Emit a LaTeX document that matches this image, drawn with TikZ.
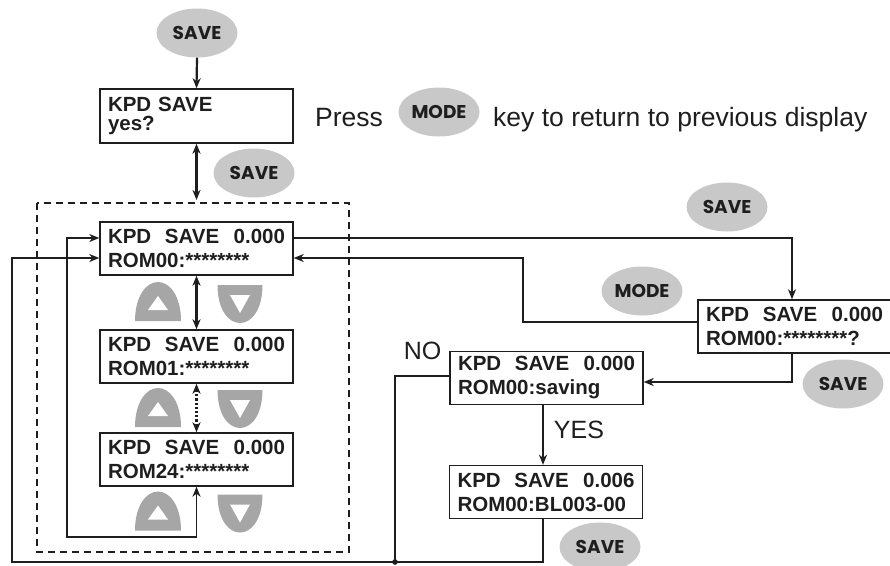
\documentclass[tikz,border=0pt]{standalone}
\usepackage{fontspec}
\setmainfont{Liberation Sans}
\newfontfamily\keyfont{Poppins}
\usetikzlibrary{shapes.geometric, arrows.meta, positioning}
\definecolor{keygray}{RGB}{200, 200, 200}
\definecolor{arrowgray}{RGB}{166, 166, 166}
\definecolor{inkblack}{RGB}{30, 30, 30}

\tikzset{
    lcdbox/.style={rectangle, draw=inkblack, line width=1.4pt, inner xsep=8pt, text width=177pt,
        align=left, minimum height=53pt, text=inkblack,
        font=\bfseries\fontsize{20.5}{24}\selectfont},
    keybtn/.style={ellipse, fill=keygray, minimum width=81pt, minimum height=49pt, inner sep=0pt,
        text=inkblack, font=\keyfont\bfseries\fontsize{18.5}{20}\selectfont},
    plaintext/.style={inner sep=0pt, text=inkblack, font=\fontsize{26.5}{30}\selectfont},
    flow/.style={draw=inkblack, line width=1.3pt},
    thickflow/.style={draw=inkblack, line width=2.2pt},
    upkey/.pic={
        \fill[arrowgray] (-23,19.5) .. controls (-23,-5) and (-12,-19.5) .. (0,-19.5)
            .. controls (12,-19.5) and (23,-5) .. (23,19.5) -- cycle;
        \fill[white] (-10,8.5) -- (10,8.5) -- (0,-5.5) -- cycle;
    },
    downkey/.pic={
        \fill[arrowgray] (-22.5,-19) -- (22.5,-19) .. controls (22.5,5) and (12,19) .. (0,19)
            .. controls (-12,19) and (-22.5,5) .. (-22.5,-19) -- cycle;
        \fill[white] (-10,-9) -- (10,-9) -- (0,9) -- cycle;
    }
}

\begin{document}
\begin{tikzpicture}[x=1pt, y=-1pt, >={Stealth[length=10pt, width=8pt, inset=3pt]}]
    \useasboundingbox (0,0) rectangle (890,565);

    % Keys
    \node[keybtn] (saveTop) at (197,33) {SAVE};
    \node[keybtn] (saveYes) at (254,173) {SAVE};
    \node[keybtn] (modePress) at (439,112) {MODE};
    \node[keybtn] (saveRight) at (727,207) {SAVE};
    \node[keybtn] (modeRight) at (642,291) {MODE};
    \node[keybtn] (saveConfirm) at (843,384) {SAVE};
    \node[keybtn] (saveBottom) at (600,547) {SAVE};

    % Hint text
    \node[plaintext, anchor=base west] (pressTxt) at (315,126) {Press};
    \node[plaintext, anchor=base west] (returnTxt) at (493,126) {key to return to previous display};

    % Displays
    \node[lcdbox, minimum height=54pt, font=\bfseries\fontsize{20.5}{19}\selectfont] (kpdYes) at (196.5,116) {KPD SAVE\\yes?};
    \node[lcdbox] (rom00) at (196.5,248.5) {KPD\ \ SAVE\hfill 0.000\\ROM00:********};
    \node[lcdbox] (rom01) at (196.5,356.5) {KPD\ \ SAVE\hfill 0.000\\ROM01:********};
    \node[lcdbox] (rom24) at (196.5,459.5) {KPD\ \ SAVE\hfill 0.000\\ROM24:********};
    \node[lcdbox] (confirmBox) at (794.5,326.5) {KPD\ \ SAVE\hfill 0.000\\ROM00:********?};
    \node[lcdbox] (savingBox) at (546.5,378) {KPD\ \ SAVE\hfill 0.000\\ROM00:saving};
    \node[lcdbox] (blBox) at (546,492) {KPD\ \ SAVE\hfill 0.006\\ROM00:BL003-00};

    % Up / down keys
    \foreach \uy/\dy in {301.5/304, 407.5/409, 511/513.5} {
        \pic at (158,\uy) {upkey};
        \pic at (240,\dy) {downkey};
    }

    % Dashed frame
    \draw[inkblack, line width=1.4pt, dash pattern=on 7pt off 5pt] (37,203) rectangle (349,552);

    % Labels
    \node[plaintext, font=\fontsize{25}{28}\selectfont] (noTxt) at (422.5,350.5) {NO};
    \node[plaintext, font=\fontsize{25}{28}\selectfont] (yesTxt) at (579,430) {YES};

    % Connectors
    \coordinate (dashTop) at (196.5,200);
    \coordinate (loopIn) at (67,537);
    \coordinate (junction) at (395,562);
    \coordinate (outerCorner) at (12,562);
    \coordinate (modeCorner) at (523,322);

    \draw[thickflow, ->] (saveTop.south) -- (kpdYes.north);
    \draw[thickflow, <->] (kpdYes.south) -- (dashTop);
    \draw[thickflow, <->] (rom00.south) -- (rom01.north);
    \draw[thickflow, <->, dotted] (rom01.south) -- (rom24.north);
    \draw[flow, <->] ([yshift=10.5pt]rom00.west) -| (loopIn) -| (rom24.south);

    \draw[flow, ->] ([yshift=10.5pt]rom00.east) -| ([xshift=-2.5pt]confirmBox.north);
    \draw[flow, ->] (confirmBox.west |- modeCorner) -- (modeCorner) |- ([yshift=-9.5pt]rom00.east);
    \draw[thickflow, ->] ([xshift=-2.5pt]confirmBox.south) |- ([yshift=-4pt]savingBox.east);
    \draw[thickflow, ->] ([xshift=-3.5pt]savingBox.south) -- ([xshift=-3pt]blBox.north);

    \draw[flow] ([yshift=2pt]savingBox.west) -| (junction);
    \draw[flow, ->] ([xshift=-3pt]blBox.south) |- (outerCorner) |- ([yshift=-9.5pt]rom00.west);
    \fill[inkblack] (junction) circle (2.8pt);
\end{tikzpicture}
\end{document}
